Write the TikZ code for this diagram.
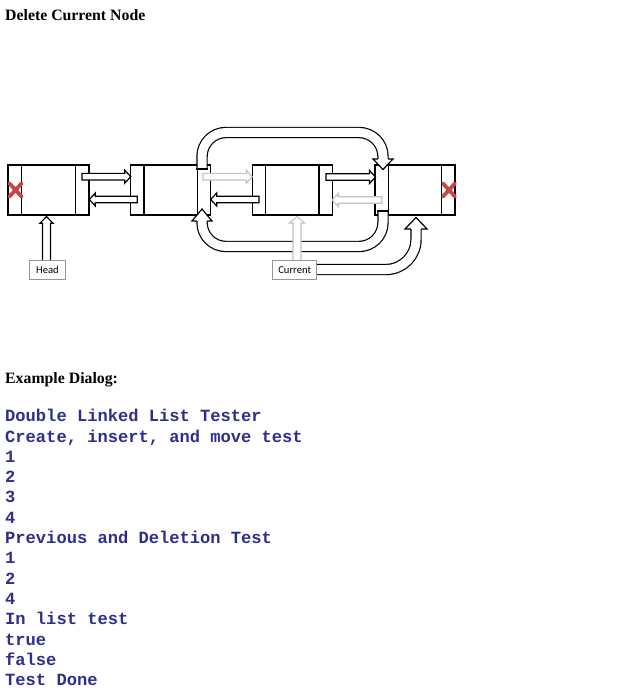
\documentclass[tikz,border=0pt]{standalone}
\usepackage{fontspec}
\setmainfont{Liberation Serif}
\newfontfamily\monof{Liberation Mono}
\newfontfamily\calib{Carlito}
\definecolor{dlg}{RGB}{46,46,140}
\definecolor{xred}{RGB}{196,72,72}
\definecolor{ghost}{RGB}{195,195,195}
\definecolor{lblgray}{RGB}{150,150,150}
\newcommand\RArr[4]{\filldraw[#1] (#2,#4-3.3) -- (#3-6,#4-3.3) -- (#3-6,#4-6.5) -- (#3,#4) -- (#3-6,#4+6.5) -- (#3-6,#4+3.3) -- (#2,#4+3.3) -- cycle;}
\newcommand\LArr[4]{\filldraw[#1] (#2,#4-3.3) -- (#3+6,#4-3.3) -- (#3+6,#4-6.5) -- (#3,#4) -- (#3+6,#4+6.5) -- (#3+6,#4+3.3) -- (#2,#4+3.3) -- cycle;}
\begin{document}
\begin{tikzpicture}[x=1pt,y=-1pt,
  listnode/.style={draw=black,fill=white,line width=1.3pt,minimum width=80pt,minimum height=50pt,inner sep=0pt},
  divider/.style={draw=black,line width=1.3pt},
  blk/.style={draw=black,fill=white,line width=1.2pt,line join=miter},
  gry/.style={draw=ghost,fill=white,line width=1.2pt,line join=miter},
  bigloop/.style={draw=black,line width=1.2pt,double=white,double distance=9pt},
  bighead/.style={draw=black,fill=white,line width=1.2pt,line join=miter},
  xmark/.style={draw=xred,line width=3.8pt,line cap=round},
  lbl/.style={draw=lblgray,fill=white,line width=0.8pt,inner sep=0pt,minimum height=19pt,font=\calib\fontsize{10.6}{12}\selectfont},
  title/.style={anchor=base west,inner sep=0pt,font=\bfseries\fontsize{15.8}{18}\selectfont},
  dlgline/.style={anchor=base west,inner sep=0pt,text=dlg,font=\monof\bfseries\fontsize{17.1}{20}\selectfont}
]
\useasboundingbox (0,0) rectangle (618,700);

% list nodes
\node[listnode,minimum width=81pt] (n1) at (48.5,190) {};
\node[listnode] (n2) at (170.7,190) {};
\node[listnode] (n3) at (292.3,190) {};
\node[listnode] (n4) at (415,190) {};
\foreach \n in {n1,n2,n3,n4}{
  \draw[divider] ([xshift=14pt]\n.north west) -- ([xshift=14pt]\n.south west);
  \draw[divider] ([xshift=-14pt]\n.north east) -- ([xshift=-14pt]\n.south east);
}

% red crosses
\draw[xmark] (9.5,183.5) -- (21.5,196.5) (9.5,196.5) -- (21.5,183.5);
\draw[xmark] (443,183.5) -- (455,196.5) (443,196.5) -- (455,183.5);

% big loop: n2 -> n4 (top)
\draw[bigloop,rounded corners=24pt] (202,169) -- (202,132.5) -- (383,132.5) -- (383,159);
\draw[line width=1.2pt] (196.3,169) -- (207.7,169);
\filldraw[bighead] (377.9,159) -- (373,159) -- (383,169.5) -- (393,159) -- (388.1,159);

% big loop: n4 -> n2 (bottom)
\draw[bigloop,rounded corners=24pt] (383,211) -- (383,246.5) -- (202,246.5) -- (202,221);
\draw[line width=1.2pt] (377.3,211) -- (388.7,211);
\filldraw[bighead] (196.9,221) -- (192,221) -- (202,209) -- (212,221) -- (207.1,221);

% small pointer arrows
\RArr{blk}{82}{130.7}{176.7}
\LArr{blk}{137.3}{89.3}{199.5}
\RArr{gry}{203}{252.3}{176.7}
\LArr{blk}{259}{210.7}{199.5}
\RArr{blk}{326}{375.5}{177}
\LArr{gry}{382}{332.3}{200}

% Current -> n4
\draw[bigloop,rounded corners=30pt] (310,269.5) -- (416,269.5) -- (416,229);
\filldraw[bighead] (410.9,229) -- (405,229) -- (416,217.5) -- (427,229) -- (421.1,229);

% Head -> n1
\filldraw[blk,line width=1.1pt] (42.5,260) -- (42.5,223.3) -- (39.8,223.3) -- (46.5,216.5) -- (53.2,223.3) -- (50.5,223.3) -- (50.5,260);
% Current (old) -> n3
\filldraw[gry,line width=1.1pt] (293,261) -- (293,223) -- (289.5,223) -- (297,216.5) -- (304.5,223) -- (301,223) -- (301,261);

% labels
\node[lbl,minimum width=36.4pt] (head) at (47.5,269.5) {Head};
\node[lbl,minimum width=44pt] (cur) at (294.7,270) {Current};

% texts
\node[title] (t1) at (5,20.5) {Delete Current Node};
\node[title] (t2) at (5,383.3) {Example Dialog:};
\foreach \i/\t in {0/Double Linked List Tester,1/{Create, insert, and move test},2/1,3/2,4/3,5/4,6/Previous and Deletion Test,7/1,8/2,9/4,10/In list test,11/true,12/false,13/Test Done}{
  \node[dlgline] (d\i) at (5,421.7+20.3*\i) {\t};
}
\end{tikzpicture}
\end{document}
